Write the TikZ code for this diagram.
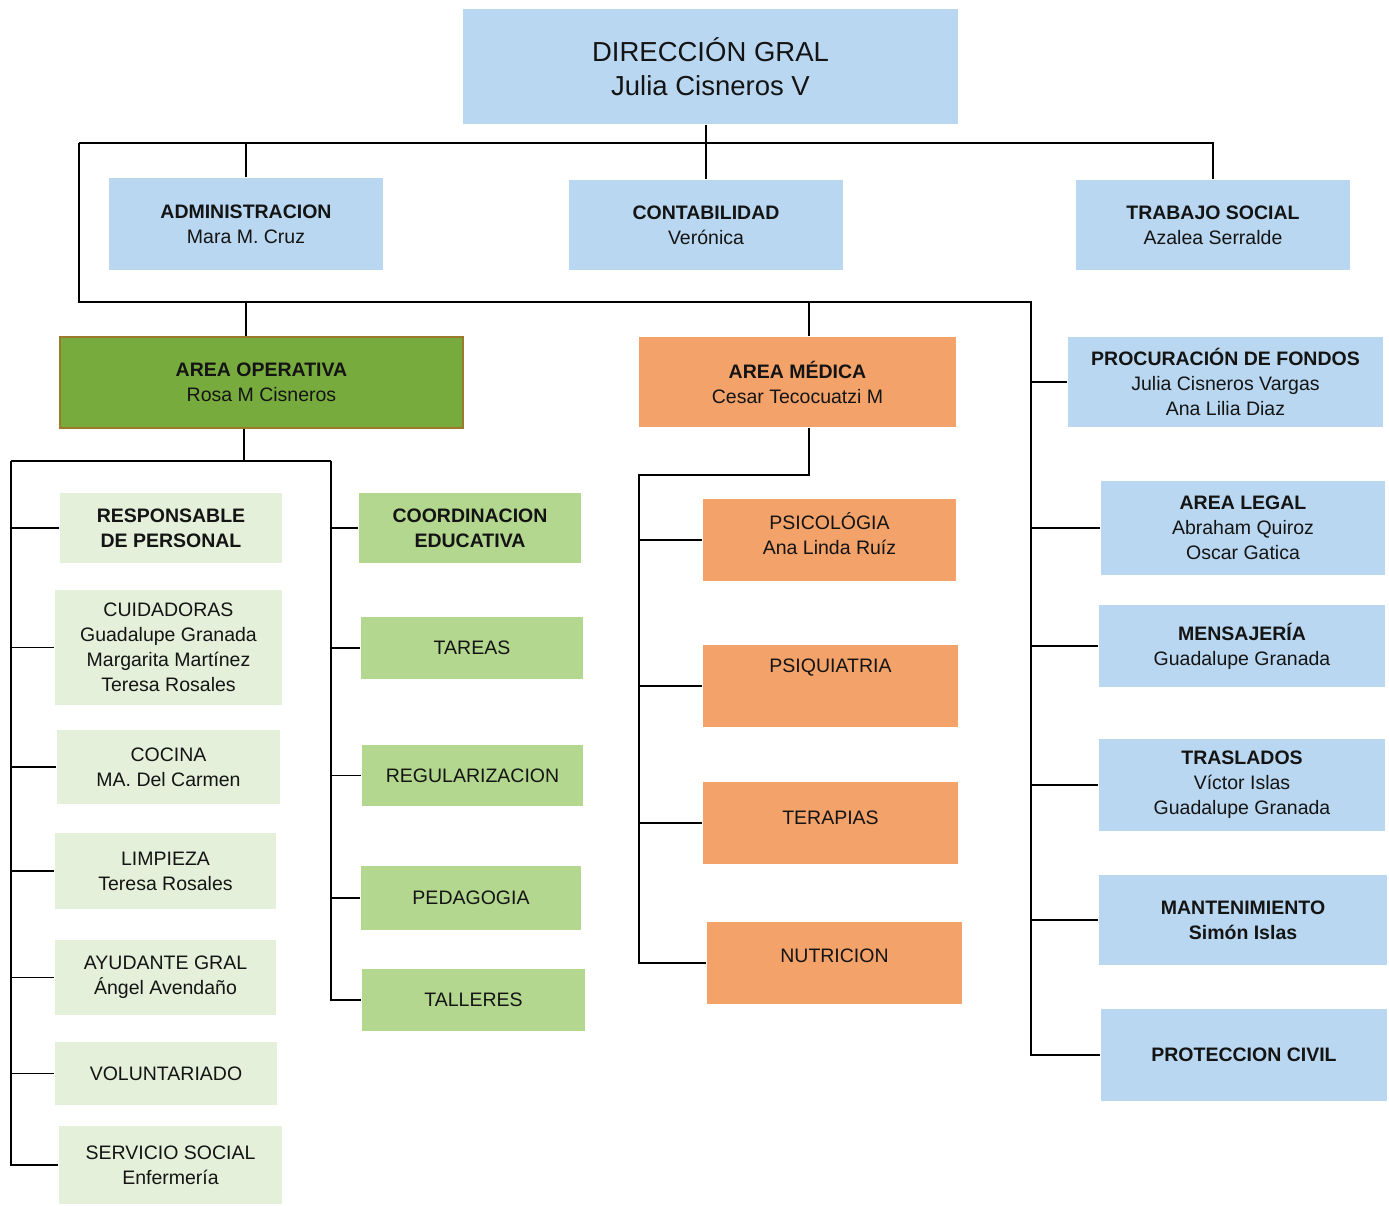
\documentclass[tikz,border=0pt]{standalone}
\usepackage{fontspec}
\setmainfont{Liberation Sans}
\definecolor{azul}{HTML}{B9D7F0}
\definecolor{naranja}{HTML}{F3A26A}
\definecolor{verde}{HTML}{78AB3D}
\definecolor{cafe}{HTML}{9C7A2C}
\definecolor{verdemedio}{HTML}{B4D78F}
\definecolor{verdeclaro}{HTML}{E4F0DA}

\begin{document}
\begin{tikzpicture}[x=1pt, y=-1pt, line width=1.8pt,
  every node/.style={rectangle, align=center, inner sep=2pt, text=black!92,
    font=\fontsize{19.5}{25}\selectfont},
  azulbox/.style={fill=azul},
  naranjabox/.style={fill=naranja},
  verdebox/.style={fill=verdemedio},
  clarobox/.style={fill=verdeclaro},
  wh/.style 2 args={minimum width=#1, minimum height=#2},
  lift/.style={text depth=#1}]
  \useasboundingbox (0,0) rectangle (1389,1205);

  \node[azulbox, wh={495}{115}, font=\fontsize{27.5}{34}\selectfont] (dir) at (710.5,66.5)
    {DIRECCIÓN GRAL\\Julia Cisneros V};

  \node[azulbox, wh={274}{92}] (adm) at (246,224) {\textbf{ADMINISTRACION}\\Mara M. Cruz};
  \node[azulbox, wh={274}{90}] (cont) at (706,225) {\textbf{CONTABILIDAD}\\Verónica};
  \node[azulbox, wh={274}{90}] (trab) at (1213,225) {\textbf{TRABAJO SOCIAL}\\Azalea Serralde};

  \node[fill=verde, draw=cafe, line width=1.5pt, wh={403}{91}] (aop) at (261.5,382.5)
    {\textbf{AREA OPERATIVA}\\Rosa M Cisneros};
  \node[naranjabox, wh={317}{90}] (amed) at (797.5,382)
    {\textbf{AREA MÉDICA}\\Cesar Tecocuatzi M};

  \node[azulbox, wh={315}{90}] (proc) at (1225.5,382)
    {\textbf{PROCURACIÓN DE FONDOS}\\Julia Cisneros Vargas\\Ana Lilia Diaz};
  \node[azulbox, wh={284}{94}] (legal) at (1243,528)
    {\textbf{AREA LEGAL}\\Abraham Quiroz\\Oscar Gatica};
  \node[azulbox, wh={286}{82}] (mens) at (1242,646)
    {\textbf{MENSAJERÍA}\\Guadalupe Granada};
  \node[azulbox, wh={286}{92}] (tras) at (1242,785)
    {\textbf{TRASLADOS}\\Víctor Islas\\Guadalupe Granada};
  \node[azulbox, wh={288}{90}] (mant) at (1243,920)
    {\textbf{MANTENIMIENTO}\\\textbf{Simón Islas}};
  \node[azulbox, wh={286}{92}] (prot) at (1244,1055) {\textbf{PROTECCION CIVIL}};

  \node[clarobox, wh={222}{70}] (resp) at (171,528) {\textbf{RESPONSABLE}\\\textbf{DE PERSONAL}};
  \node[clarobox, wh={227}{115}] (cuid) at (168.5,647.5)
    {CUIDADORAS\\Guadalupe Granada\\Margarita Martínez\\Teresa Rosales};
  \node[clarobox, wh={223}{74}] (coc) at (168.5,767) {COCINA\\MA. Del Carmen};
  \node[clarobox, wh={221}{76}] (limp) at (165.5,871) {LIMPIEZA\\Teresa Rosales};
  \node[clarobox, wh={221}{75}] (ayud) at (165.5,977.5) {AYUDANTE GRAL\\Ángel Avendaño};
  \node[clarobox, wh={222}{63}] (vol) at (166,1073.5) {VOLUNTARIADO};
  \node[clarobox, wh={223}{78}] (serv) at (170.5,1165) {SERVICIO SOCIAL\\Enfermería};

  \node[verdebox, wh={222}{70}] (coord) at (470,528) {\textbf{COORDINACION}\\\textbf{EDUCATIVA}};
  \node[verdebox, wh={222}{62}] (tar) at (472,648) {TAREAS};
  \node[verdebox, wh={221}{61}] (reg) at (472.5,775.5) {REGULARIZACION};
  \node[verdebox, wh={220}{64}] (ped) at (471,898) {PEDAGOGIA};
  \node[verdebox, wh={223}{62}] (tall) at (473.5,1000) {TALLERES};

  \node[naranjabox, wh={253}{82}, lift=12pt] (psic) at (829.5,540) {PSICOLÓGIA\\Ana Linda Ruíz};
  \node[naranjabox, wh={255}{82}, lift=40pt] (psiq) at (830.5,686) {PSIQUIATRIA};
  \node[naranjabox, wh={255}{82}, lift=10pt] (ter) at (830.5,823) {TERAPIAS};
  \node[naranjabox, wh={255}{82}, lift=14pt] (nutr) at (834.5,963) {NUTRICION};

  \coordinate (top) at (79,143);
  \coordinate (mid) at (79,302);
  \coordinate (rail) at (1031,302);
  \coordinate (opj) at (246,302);
  \coordinate (medj) at (809,302);
  \coordinate (opbus) at (244,461);
  \coordinate (lrail) at (11,461);
  \coordinate (rrail) at (331,461);
  \coordinate (mrail) at (639,475);

  \draw (cont.north) -- (cont.north |- dir.south);
  \draw (top) -- (top -| trab.north) -- (trab.north);
  \draw (adm.north) -- (adm.north |- top);
  \draw (top) -- (mid) -- (rail) |- (prot.west);
  \foreach \n in {proc,legal,mens,tras,mant}
    \draw (rail |- \n.west) -- (\n.west);
  \draw (opj) -- (opj |- aop.north);
  \draw (medj) -- (medj |- amed.north);

  \draw (opbus |- aop.south) -- (opbus);
  \draw (lrail) -- (rrail);
  \draw (lrail) |- (serv.west);
  \foreach \n in {resp,cuid,coc,limp,ayud,vol}
    \draw (lrail |- \n.west) -- (\n.west);
  \draw (rrail) |- (tall.west);
  \foreach \n in {coord,tar,reg,ped}
    \draw (rrail |- \n.west) -- (\n.west);

  \draw (medj |- amed.south) |- (mrail) |- (nutr.west);
  \foreach \n in {psic,psiq,ter}
    \draw (mrail |- \n.west) -- (\n.west);
\end{tikzpicture}
\end{document}
